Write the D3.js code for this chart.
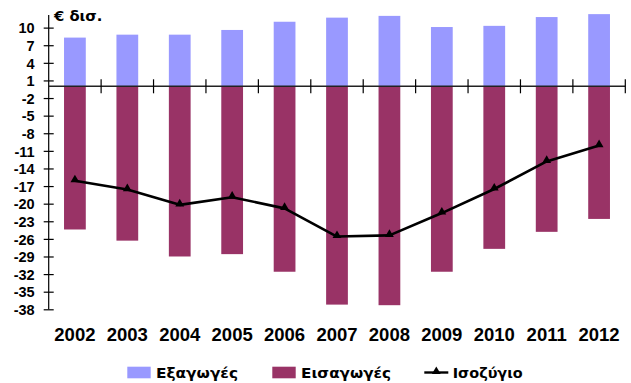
<!DOCTYPE html>
<html>
<head>
<meta charset="utf-8">
<script src="https://cdn.jsdelivr.net/npm/d3@7"></script>
<style>
  html, body { margin: 0; padding: 0; background: #fff; }
  svg { display: block; font-family: "Liberation Sans", Arial, sans-serif; }
</style>
</head>
<body>
<svg id="chart" width="631" height="383"></svg>
<script>
const years = ["2002","2003","2004","2005","2006","2007","2008","2009","2010","2011","2012"];
const exportsVals = [8.3, 8.8, 8.8, 9.6, 11.0, 11.7, 12.0, 10.1, 10.3, 11.8, 12.3];
const importsVals = [-24.4, -26.3, -29.0, -28.6, -31.6, -37.2, -37.3, -31.6, -27.7, -24.8, -22.6];
const balanceVals = [-16.1, -17.6, -20.2, -18.9, -20.8, -25.6, -25.4, -21.6, -17.5, -12.8, -10.1];
const yTicks = [-38, -35, -32, -29, -26, -23, -20, -17, -14, -11, -8, -5, -2, 1, 4, 7, 10];
const yMin = -38, yMax = 12.15;
const unitLabel = "€ δισ.";
const seriesNames = ["Εξαγωγές", "Εισαγωγές", "Ισοζύγιο"];
const colors = { exp: "#9999FF", imp: "#993366", bal: "#000000" };

(function () {
const svg = d3.select("#chart");
const pLeft = 48.7, pRight = 625.3, pTop = 15, pBottom = 309.3;
const greekFont = "'DejaVu Sans', 'Liberation Sans', sans-serif";

const x = d3.scaleBand().domain(years).range([pLeft, pRight]).padding(0);
const y = d3.scaleLinear().domain([yMin, yMax]).range([pBottom, pTop]);
const barW = x.bandwidth() * 0.415;
const cx = d => x(d) + x.bandwidth() / 2;

// bars
svg.append("g").selectAll("rect").data(years).join("rect")
  .attr("x", (d) => cx(d) - barW / 2)
  .attr("y", (d, i) => y(exportsVals[i]))
  .attr("width", barW)
  .attr("height", (d, i) => y(0) - y(exportsVals[i]))
  .attr("fill", colors.exp);

svg.append("g").selectAll("rect").data(years).join("rect")
  .attr("x", (d) => cx(d) - barW / 2)
  .attr("y", y(0))
  .attr("width", barW)
  .attr("height", (d, i) => y(importsVals[i]) - y(0))
  .attr("fill", colors.imp);

// y axis
const yAxis = d3.axisLeft(y).tickValues(yTicks).tickSize(0).tickPadding(0).tickFormat(d3.format("d"));
const gy = svg.append("g").attr("transform", `translate(${pLeft},0)`).call(yAxis);
gy.select(".domain").remove();
gy.selectAll(".tick text").remove();
gy.append("line").attr("x1", 0).attr("x2", 0).attr("y1", pTop).attr("y2", pBottom)
  .attr("stroke", "#000").attr("stroke-width", 1.2);
gy.selectAll(".tick").append("line").attr("x1", -5).attr("x2", 5)
  .attr("stroke", "#000").attr("stroke-width", 1.2);
gy.selectAll(".tick").append("text")
  .attr("x", -14).attr("dy", "0.36em")
  .attr("text-anchor", "end")
  .attr("font-size", 14.5).attr("font-weight", "bold").attr("fill", "#000")
  .text(d => d);

// zero axis line with category boundary ticks
const y0 = y(0);
svg.append("line").attr("x1", pLeft).attr("x2", pRight).attr("y1", y0).attr("y2", y0)
  .attr("stroke", "#222").attr("stroke-width", 1.4);
const boundaries = years.slice(1).map(d => x(d)).concat([pRight]);
svg.append("g").selectAll("line").data(boundaries).join("line")
  .attr("x1", d => d).attr("x2", d => d)
  .attr("y1", y0 - 7).attr("y2", y0 + 7)
  .attr("stroke", "#000").attr("stroke-width", 1.2);

// category labels
svg.append("g").selectAll("text").data(years).join("text")
  .attr("x", d => cx(d)).attr("y", 340.5)
  .attr("text-anchor", "middle")
  .attr("font-size", 18.5).attr("font-weight", "bold").attr("fill", "#000")
  .text(d => d);

// balance line
const line = d3.line().x((d, i) => cx(years[i])).y(d => y(d));
svg.append("path").datum(balanceVals)
  .attr("d", line).attr("fill", "none")
  .attr("stroke", colors.bal).attr("stroke-width", 2.6).attr("stroke-linejoin", "round");
const tri = d3.symbol(d3.symbolTriangle).size(34);
svg.append("g").selectAll("path").data(balanceVals).join("path")
  .attr("d", tri)
  .attr("transform", (d, i) => `translate(${cx(years[i])},${y(d) - 1})`)
  .attr("fill", "#000");

// unit label
svg.append("text").attr("x", 54).attr("y", 21)
  .attr("font-family", greekFont)
  .attr("font-size", 14).attr("font-weight", "bold").attr("fill", "#000")
  .attr("textLength", 48.5).attr("lengthAdjust", "spacingAndGlyphs")
  .text(unitLabel);

// legend
const lg = svg.append("g");
const legY = 372.5;
const legText = (xPos, w, s) => lg.append("text").attr("x", xPos).attr("y", 377.7)
  .attr("font-family", greekFont)
  .attr("font-size", 14).attr("font-weight", "bold").attr("fill", "#000")
  .attr("textLength", w).attr("lengthAdjust", "spacingAndGlyphs").text(s);
lg.append("rect").attr("x", 127.3).attr("y", 366.7).attr("width", 23.4).attr("height", 11.6).attr("fill", colors.exp);
legText(156, 82, seriesNames[0]);
lg.append("rect").attr("x", 272.3).attr("y", 366.7).attr("width", 23.4).attr("height", 11.6).attr("fill", colors.imp);
legText(301, 90, seriesNames[1]);
lg.append("line").attr("x1", 424.3).attr("x2", 448.3).attr("y1", legY).attr("y2", legY)
  .attr("stroke", "#000").attr("stroke-width", 2.4);
lg.append("path").attr("d", tri).attr("transform", `translate(436.3,${legY - 1})`).attr("fill", "#000");
legText(452.7, 70, seriesNames[2]);
})();
</script>
</body>
</html>
